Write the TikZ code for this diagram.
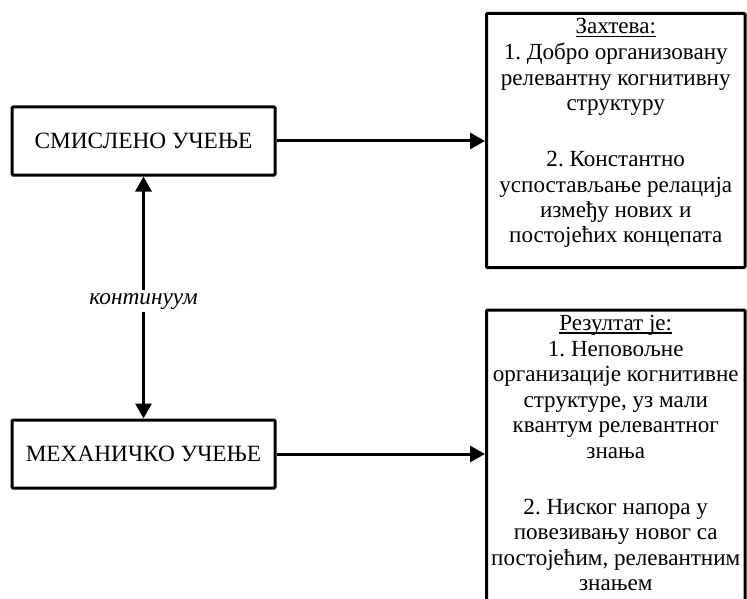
\documentclass[tikz,border=0pt]{standalone}
\usepackage{fontspec}
\setmainfont{Liberation Serif}
\usetikzlibrary{arrows.meta,calc}
\newcommand{\rightbox}[2]{\parbox[c][#1][t]{256pt}{\centering\frenchspacing\rule{0pt}{20.5pt}#2}}
\newcommand{\headline}[1]{\setbox0=\hbox{#1}\rlap{\rule[-3pt]{\wd0}{1.1pt}}\box0}
\begin{document}
\frenchspacing
\begin{tikzpicture}[x=1pt,y=-1pt,
  box/.style={draw=black,line width=3pt,rounded corners=1pt,fill=white,inner sep=0pt,align=center},
  modefont/.style={font=\fontsize{23.3}{27}\selectfont},
  descfont/.style={font=\fontsize{23.1}{25.5}\selectfont},
  labelstyle/.style={fill=white,inner sep=3pt,modefont,font=\fontsize{23.3}{27}\selectfont\itshape},
  conn/.style={line width=3pt,-{Triangle[length=15pt,width=16pt]}},
  biconn/.style={line width=3pt,{Triangle[length=15pt,width=16pt]}-{Triangle[length=15pt,width=16pt]}}]
\useasboundingbox (0,0) rectangle (747,599);
\clip (0,0) rectangle (747,599);

% learning modes on the left
\node[box,modefont,minimum width=263pt,minimum height=68pt] (smisl) at (143.5,141) {СМИСЛЕНО УЧЕЊЕ};
\node[box,modefont,minimum width=263pt,minimum height=68pt] (meh) at (143.5,454) {МЕХАНИЧКО УЧЕЊЕ};

% descriptions on the right, text set from the top edge
\node[box,descfont,anchor=north,minimum width=258.5pt] (zaht) at (615.75,12)
  {\rightbox{254pt}{\headline{Захтева:}\\1. Добро организовану\\релевантну когнитивну\\структуру\\[30.5pt]2. Константно\\успостављање релација\\између нових и\\постојећих концепата}};
\node[box,descfont,anchor=north,minimum width=258.5pt] (rez) at (615.75,308.5)
  {\rightbox{320pt}{\headline{Резултат је:}\\1. Неповољне\\организације когнитивне\\структуре, уз мали\\квантум релевантног\\знања\\[30.5pt]2. Ниског напора у\\повезивању новог са\\постојећим, релевантним\\знањем}};

% connectors
\draw[conn] (smisl.east) -- (smisl.east -| zaht.west);
\draw[conn] (meh.east) -- (meh.east -| rez.west);
\draw[biconn] (smisl.south) -- (meh.north);
\node[labelstyle,anchor=base] (kont) at (143.5,304) {континуум};
\end{tikzpicture}
\end{document}
